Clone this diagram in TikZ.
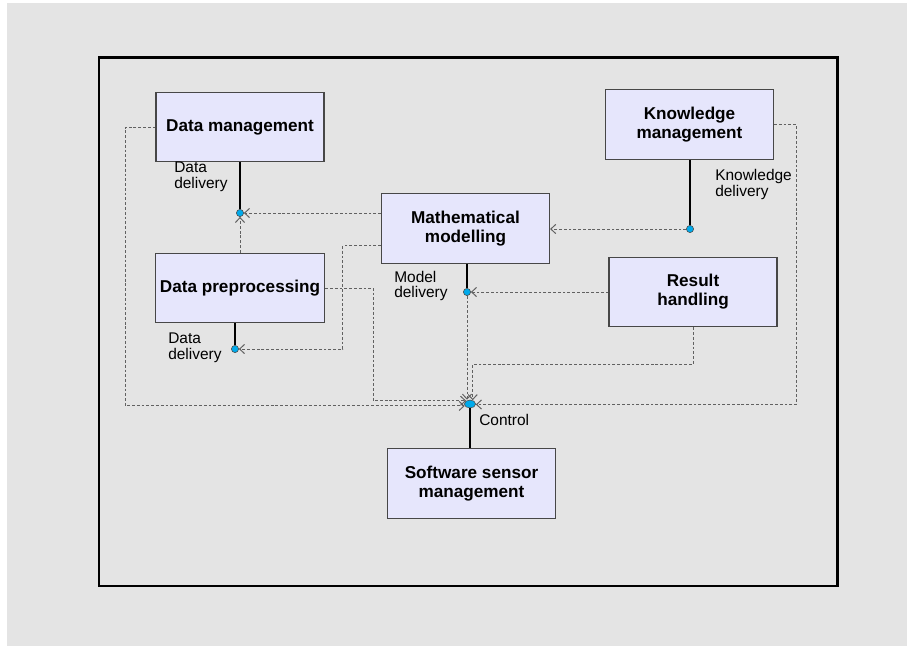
\documentclass[tikz,border=0pt]{standalone}
\usepackage{fontspec}
\setmainfont{Liberation Sans}
\usetikzlibrary{calc,shapes.geometric,arrows.meta}
\definecolor{boxfill}{RGB}{230,230,252}
\definecolor{portcyan}{RGB}{0,170,235}
\definecolor{bggray}{RGB}{228,228,228}

\begin{document}
\begin{tikzpicture}[x=0.025cm,y=-0.025cm,
	block/.style={draw=black!72,line width=0.8pt,fill=boxfill,minimum width=4.2cm,minimum height=1.74cm,align=center,font=\fontsize{12.2}{13.5}\selectfont\bfseries},
	port/.style={circle,draw=black!70,line width=0.4pt,fill=portcyan,inner sep=0pt,minimum size=0.18cm},
	lbl/.style={anchor=north west,inner sep=0pt,align=left,font=\fontsize{11}{11}\selectfont},
	link/.style={line width=1.3pt},
	flow/.style={draw=black!62,line width=0.7pt,dash pattern=on 2pt off 1.4pt,-{Straight Barb[length=3.5pt,width=6.5pt]}}]
	% 背景与外框
	\useasboundingbox (0,0) rectangle (907,646);
	\fill[white] (0,0) rectangle (907,646);
	\fill[bggray] (7,3) rectangle (907,646);
	\draw[line width=2.1pt] (99,57.5) rectangle (837.5,586);
	
	% 模块
	\node[block] (dm) at (240,127) {Data management};
	\node[block] (km) at (689.5,124.5) {Knowledge\\management};
	\node[block] (mm) at (465.5,228.7) {Mathematical\\modelling};
	\node[block] (dp) at (240,288) {Data preprocessing};
	\node[block] (rh) at (693,292) {Result\\handling};
	\node[block] (ssm) at (471.5,483.5) {Software sensor\\management};
	
	% 接口点
	\node[port] (p1) at (240,213) {};
	\node[port] (p2) at (235,349) {};
	\node[port] (p3) at (690,229) {};
	\node[port] (p4) at (467,292) {};
	\node[port,ellipse,minimum width=0.28cm,minimum height=0.2cm] (ctrl) at (470,404) {};
	
	% 实线：提供接口
	\draw[link] (dm.south) -- (p1.north);
	\draw[link] (dp.south -| p2) -- (p2.north);
	\draw[link] (km.south -| p3) -- (p3.north);
	\draw[link] (mm.south -| p4) -- (p4.north);
	\draw[link] (ctrl.south) -- (ctrl |- ssm.north);
	
	% 虚线：使用接口
	\draw[flow] (dp.north) -- (p1.south);
	\draw[flow] (mm.west |- p1) -- (p1.east);
	\draw[flow] ($(mm.west)+(0,17)$) -- ++(-38,0) |- (p2.east);
	\draw[flow] (p3.west) -- (mm.east |- p3);
	\draw[flow] (rh.west |- p4) -- (p4.east);
	\draw[flow] (p4.south) -- (p4 |- ctrl.north);
	\draw[flow] (dp.east) -- ++(48,0) |- (ctrl.140);
	\draw[flow] (dm.west) -- ++(-30,0) |- (ctrl.200);
	\draw[flow] (rh.south) -- ++(0,37) -| (ctrl.55);
	\draw[flow] (km.east) -- ++(22,0) |- (ctrl.355);
	
	% 标签
	\node[lbl] (l1) at (174,162) {Data\\delivery};
	\node[lbl] (l2) at (168,333) {Data\\delivery};
	\node[lbl] (l3) at (715,169.5) {Knowledge\\delivery};
	\node[lbl] (l4) at (394,271) {Model\\delivery};
	\node[lbl] (l5) at (479,414) {Control};
\end{tikzpicture}
\end{document}
